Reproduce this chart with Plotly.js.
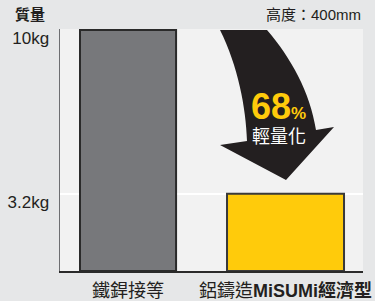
<!DOCTYPE html>
<html>
<head>
<meta charset="utf-8">
<script src="https://cdn.plot.ly/plotly-3.0.1.min.js"></script>
<style>
html,body{margin:0;padding:0;background:#e6e7e8;}
#chart{width:375px;height:301px;}
</style>
</head>
<body>
<div id="chart"></div>
<script>
// Data
var categories = ['鐵銲接等', '鋁鑄造MiSUMi經濟型'];
var tickLabels = ['鐵銲接等', '鋁鑄造<b>MiSUMi經濟型</b>'];
var weights = [10, 3.2];
var yTickVals = [3.2, 10];
var yTickText = ['3.2kg', '10kg'];
var reductionPct = '68';

var barColors = ['#77787b', '#ffcb0b'];
var barLines = ['#2a2a2a', '#3a3a3a'];

// plot area geometry (pixels) for decorative arrow
var L = 60, R = 12, T = 29, B = 30, W = 375, H = 301;
var pw = W - L - R, ph = H - T - B;
function px(x){ return ((x - L) / pw).toFixed(4); }
function py(y){ return ((H - B - y) / ph).toFixed(4); }
function P(x, y){ return px(x) + ',' + py(y); }

var arrowPath = 'M' + P(220,30) + ' L' + P(267,30) +
  ' C' + P(291,58) + ' ' + P(310,92) + ' ' + P(316,130) +
  ' L' + P(334,127) + ' L' + P(286,180) + ' L' + P(220,145) + ' L' + P(247,141) +
  ' C' + P(246,108) + ' ' + P(238,66) + ' ' + P(220,30) + ' Z';

var trace = {
  type: 'bar',
  x: [0, 1],
  y: weights,
  width: [0.61, 0.743],
  marker: { color: barColors, line: { color: barLines, width: 2 } },
  hoverinfo: 'skip'
};

var layout = {
  width: W, height: H,
  margin: { l: L, r: R, t: T, b: B, pad: 0 },
  paper_bgcolor: '#e6e7e8',
  plot_bgcolor: '#f2f2f2',
  showlegend: false,
  font: { family: 'Liberation Sans, Noto Sans CJK TC, sans-serif', color: '#231f20' },
  xaxis: {
    range: [-0.432, 1.492],
    tickmode: 'array', tickvals: [0, 1], ticktext: tickLabels,
    showgrid: false, zeroline: false,
    showline: true, linecolor: '#2a2a2a', linewidth: 1.5,
    ticks: '', ticklabelstandoff: 3,
    tickfont: { size: 18, color: '#231f20', family: 'Liberation Sans, Noto Sans CJK TC, sans-serif' },
    fixedrange: true
  },
  yaxis: {
    range: [0, 10.04],
    tickmode: 'array', tickvals: yTickVals, ticktext: yTickText,
    showgrid: true, gridcolor: '#ffffff', gridwidth: 1.5,
    zeroline: false,
    showline: true, linecolor: '#6d6e71', linewidth: 1.5,
    ticks: '', ticklabelstandoff: 6, ticklabelshift: 8,
    tickfont: { size: 17, color: '#231f20', family: 'Liberation Sans, sans-serif' },
    fixedrange: true
  },
  shapes: [
    { type: 'path', xref: 'paper', yref: 'paper', path: arrowPath,
      fillcolor: '#231f20', line: { width: 0 }, layer: 'above' }
  ],
  annotations: [
    { xref: 'paper', yref: 'paper', x: px(30), y: py(14), text: '<b>質量</b>', showarrow: false,
      font: { size: 15, family: 'Noto Sans CJK TC', color: '#231f20' }, xanchor: 'center', yanchor: 'middle' },
    { xref: 'paper', yref: 'paper', x: px(363), y: py(15), text: '高度：400mm', showarrow: false,
      font: { size: 15, family: 'Liberation Sans, Noto Sans CJK TC', color: '#231f20' }, xanchor: 'right', yanchor: 'middle' },
    { xref: 'paper', yref: 'paper', x: px(278), y: py(106), text: '<b>' + reductionPct + '</b><b><span style="font-size:17px">%</span></b>', showarrow: false,
      font: { size: 36, family: 'Liberation Sans', color: '#ffcb0b' }, xanchor: 'center', yanchor: 'middle' },
    { xref: 'paper', yref: 'paper', x: px(279), y: py(135), text: '輕量化', showarrow: false,
      font: { size: 18, family: 'Noto Sans CJK TC', color: '#ffffff' }, xanchor: 'center', yanchor: 'middle' }
  ]
};

Plotly.newPlot('chart', [trace], layout, { displayModeBar: false, staticPlot: true });
</script>
</body>
</html>
